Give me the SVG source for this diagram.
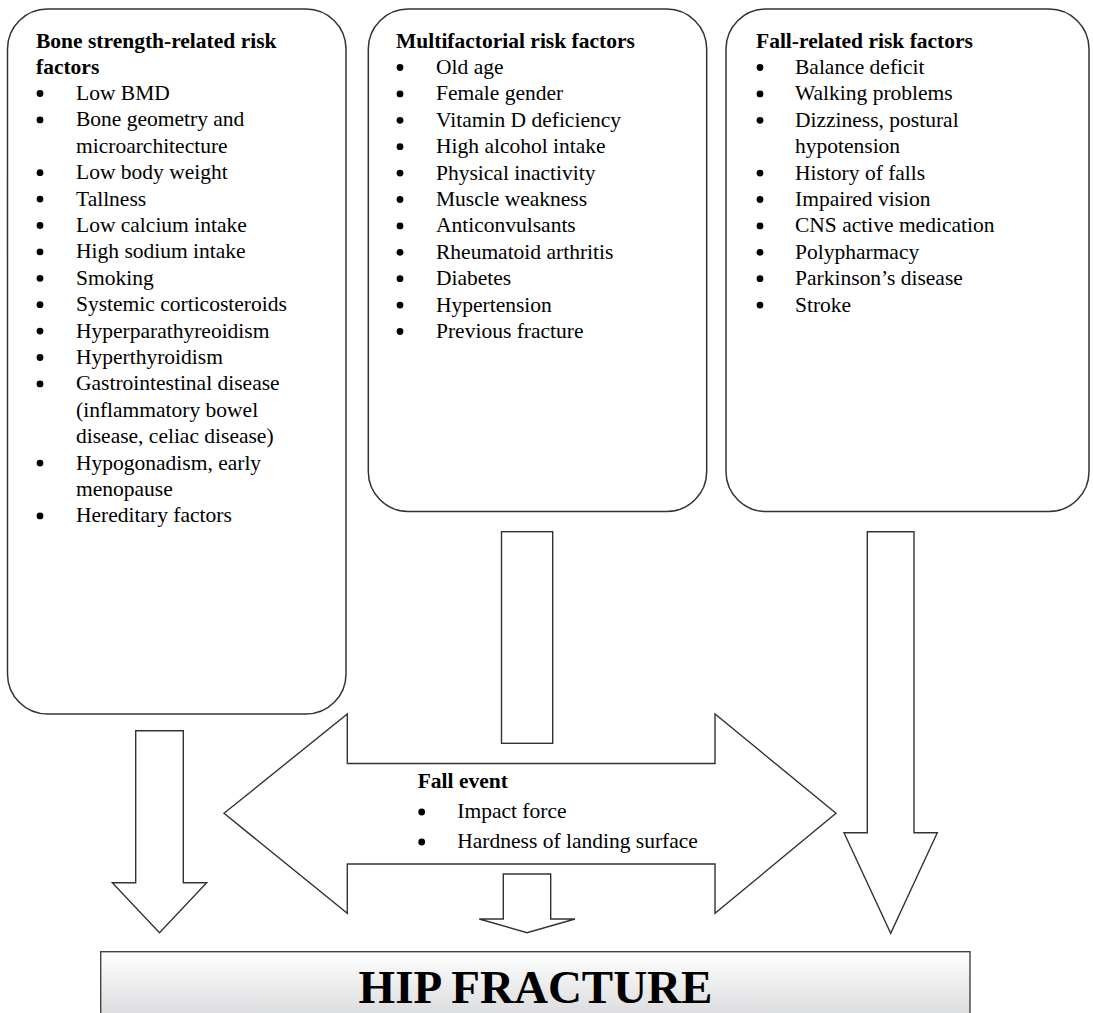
<svg xmlns="http://www.w3.org/2000/svg" width="1093" height="1013" viewBox="0 0 1093 1013">
<defs>
<linearGradient id="hipGrad" x1="0" y1="0" x2="0" y2="1">
<stop offset="0" stop-color="#ffffff"/>
<stop offset="1" stop-color="#d2d3d5"/>
</linearGradient>
<style>
.box{fill:#fff;stroke:#333;stroke-width:1.5}
.arrow{fill:#fff;stroke:#333;stroke-width:1.4}
.t{font-family:"Liberation Serif","Times New Roman",serif;font-size:21.5px;fill:#000}
.h{font-weight:bold}
.b{fill:#000}
.hip{font-family:"Liberation Serif","Times New Roman",serif;font-size:47px;font-weight:bold;fill:#000}
</style>
</defs>
<rect width="1093" height="1013" fill="#fff"/>

<g id="connectors">
<path class="arrow" d="M135.7,730.7 H183.3 V882.7 H206.7 L159.5,932.7 L112.3,882.7 H135.7 Z"/>
<rect class="arrow" x="501.5" y="531.7" width="51.2" height="211.6"/>
<path class="arrow" d="M503.3,874 H550.7 V919 H575 L527,932.7 L479.3,919 H503.3 Z"/>
<path class="arrow" d="M867.3,531.7 H914 V832.7 H937.3 L890.7,933.3 L844,832.7 H867.3 Z"/>
</g>

<g id="bone-strength">
<rect class="box" x="7.5" y="9" width="338.5" height="705" rx="40" ry="40"/>
<text class="t h" x="36" y="48">Bone strength-related risk</text>
<text class="t h" x="36" y="74">factors</text>
<g class="t">
<text x="76" y="100">Low BMD</text>
<text x="76" y="126.4">Bone geometry and</text>
<text x="76" y="152.8">microarchitecture</text>
<text x="76" y="179.2">Low body weight</text>
<text x="76" y="205.6">Tallness</text>
<text x="76" y="232">Low calcium intake</text>
<text x="76" y="258.4">High sodium intake</text>
<text x="76" y="284.8">Smoking</text>
<text x="76" y="311.2">Systemic corticosteroids</text>
<text x="76" y="337.6">Hyperparathyreoidism</text>
<text x="76" y="364">Hyperthyroidism</text>
<text x="76" y="390.4">Gastrointestinal disease</text>
<text x="76" y="416.8">(inflammatory bowel</text>
<text x="76" y="443.2">disease, celiac disease)</text>
<text x="76" y="469.6">Hypogonadism, early</text>
<text x="76" y="496">menopause</text>
<text x="76" y="522.4">Hereditary factors</text>
</g>
<g class="b">
<circle cx="40" cy="93.5" r="3.4"/>
<circle cx="40" cy="119.9" r="3.4"/>
<circle cx="40" cy="172.7" r="3.4"/>
<circle cx="40" cy="199.1" r="3.4"/>
<circle cx="40" cy="225.5" r="3.4"/>
<circle cx="40" cy="251.9" r="3.4"/>
<circle cx="40" cy="278.3" r="3.4"/>
<circle cx="40" cy="304.7" r="3.4"/>
<circle cx="40" cy="331.1" r="3.4"/>
<circle cx="40" cy="357.5" r="3.4"/>
<circle cx="40" cy="383.9" r="3.4"/>
<circle cx="40" cy="463.1" r="3.4"/>
<circle cx="40" cy="515.9" r="3.4"/>
</g>
</g>

<g id="multifactorial">
<rect class="box" x="368.3" y="9" width="338.4" height="502.5" rx="40" ry="40"/>
<text class="t h" x="396" y="48">Multifactorial risk factors</text>
<g class="t">
<text x="436" y="74">Old age</text>
<text x="436" y="100.4">Female gender</text>
<text x="436" y="126.8">Vitamin D deficiency</text>
<text x="436" y="153.2">High alcohol intake</text>
<text x="436" y="179.6">Physical inactivity</text>
<text x="436" y="206">Muscle weakness</text>
<text x="436" y="232.4">Anticonvulsants</text>
<text x="436" y="258.8">Rheumatoid arthritis</text>
<text x="436" y="285.2">Diabetes</text>
<text x="436" y="311.6">Hypertension</text>
<text x="436" y="338">Previous fracture</text>
</g>
<g class="b">
<circle cx="400" cy="67.5" r="3.4"/>
<circle cx="400" cy="93.9" r="3.4"/>
<circle cx="400" cy="120.3" r="3.4"/>
<circle cx="400" cy="146.7" r="3.4"/>
<circle cx="400" cy="173.1" r="3.4"/>
<circle cx="400" cy="199.5" r="3.4"/>
<circle cx="400" cy="225.9" r="3.4"/>
<circle cx="400" cy="252.3" r="3.4"/>
<circle cx="400" cy="278.7" r="3.4"/>
<circle cx="400" cy="305.1" r="3.4"/>
<circle cx="400" cy="331.5" r="3.4"/>
</g>
</g>

<g id="fall-related">
<rect class="box" x="726" y="9" width="363" height="502.5" rx="40" ry="40"/>
<text class="t h" x="756" y="48">Fall-related risk factors</text>
<g class="t">
<text x="795" y="74">Balance deficit</text>
<text x="795" y="100.4">Walking problems</text>
<text x="795" y="126.8">Dizziness, postural</text>
<text x="795" y="153.2">hypotension</text>
<text x="795" y="179.6">History of falls</text>
<text x="795" y="206">Impaired vision</text>
<text x="795" y="232.4">CNS active medication</text>
<text x="795" y="258.8">Polypharmacy</text>
<text x="795" y="285.2">Parkinson’s disease</text>
<text x="795" y="311.6">Stroke</text>
</g>
<g class="b">
<circle cx="760" cy="67.5" r="3.4"/>
<circle cx="760" cy="93.9" r="3.4"/>
<circle cx="760" cy="120.3" r="3.4"/>
<circle cx="760" cy="173.1" r="3.4"/>
<circle cx="760" cy="199.5" r="3.4"/>
<circle cx="760" cy="225.9" r="3.4"/>
<circle cx="760" cy="252.3" r="3.4"/>
<circle cx="760" cy="278.7" r="3.4"/>
<circle cx="760" cy="305.1" r="3.4"/>
</g>
</g>

<g id="fall-event">
<path class="arrow" d="M224,813.3 L347.3,714 V763.5 H715 V714 L836,813.3 L715,913.3 V864 H347.3 V913.3 Z"/>
<text class="t h" x="417.7" y="788.3">Fall event</text>
<text class="t" x="457.3" y="818.3">Impact force</text>
<text class="t" x="457.3" y="848.3">Hardness of landing surface</text>
<circle class="b" cx="421.7" cy="812" r="3.4"/>
<circle class="b" cx="421.7" cy="842" r="3.4"/>
</g>

<g id="hip-fracture">
<rect x="100.7" y="951.7" width="869.3" height="80" fill="url(#hipGrad)" stroke="#444" stroke-width="1.4"/>
<text class="hip" x="535.5" y="1003" text-anchor="middle">HIP FRACTURE</text>
</g>
</svg>
